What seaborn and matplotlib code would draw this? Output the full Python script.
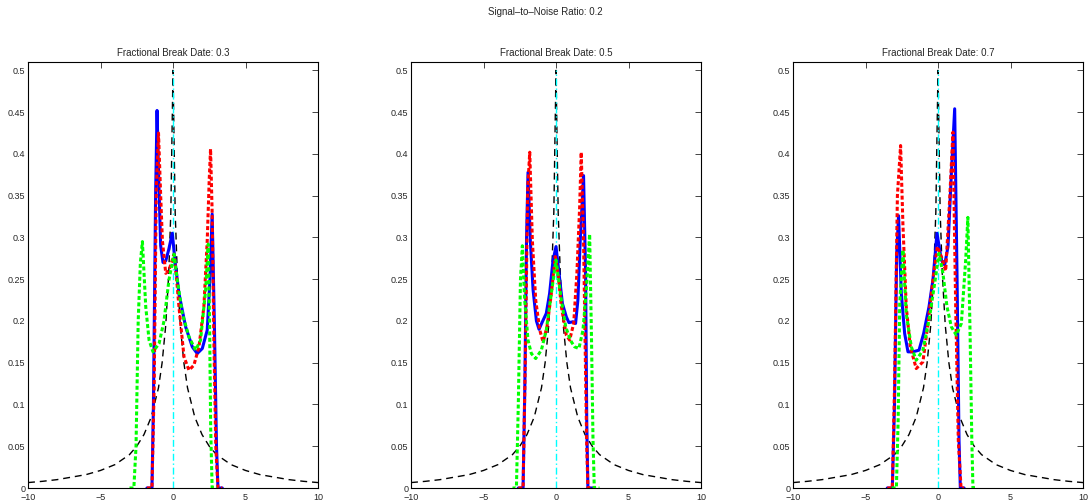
import seaborn as sns
import matplotlib.pyplot as plt

# Black dashed reference density (shared by all panels)
black_x = [-10, -9, -8, -7, -6, -5, -4, -3, -2.5, -2, -1.5, -1, -0.75, -0.5, -0.3, -0.15, 0,
           0.15, 0.3, 0.5, 0.75, 1, 1.5, 2, 2.5, 3, 4, 5, 6, 7, 8, 9, 10]
black_y = [0.0065, 0.008, 0.010, 0.013, 0.016, 0.021, 0.028, 0.040, 0.050, 0.064, 0.085, 0.120, 0.150, 0.195, 0.255, 0.33, 0.5,
           0.33, 0.255, 0.195, 0.150, 0.120, 0.085, 0.064, 0.050, 0.040, 0.028, 0.021, 0.016, 0.013, 0.010, 0.008, 0.0065]

break_dates = [0.3, 0.5, 0.7]

# Break date 0.3
blue_x_03 = [-1.8, -1.45, -1.35, -1.2, -1.1, -1.0, -0.85, -0.69, -0.5, -0.3, -0.05, 0.15, 0.41, 0.87, 1.33, 1.67, 2.02, 2.36, 2.55, 2.7, 2.85, 3.0, 3.1, 3.4]
blue_y_03 = [0, 0, 0.1, 0.35, 0.452, 0.38, 0.29, 0.27, 0.272, 0.285, 0.305, 0.27, 0.233, 0.193, 0.169, 0.161, 0.167, 0.189, 0.25, 0.328, 0.2, 0.05, 0, 0]
red_x_03 = [-1.8, -1.45, -1.3, -1.15, -1.0, -0.85, -0.73, -0.5, -0.3, -0.1, 0.07, 0.25, 0.41, 0.76, 1.1, 1.44, 1.79, 2.13, 2.36, 2.5, 2.59, 2.7, 2.82, 2.95, 3.1, 3.4]
red_y_03 = [0, 0, 0.12, 0.36, 0.425, 0.35, 0.296, 0.257, 0.26, 0.27, 0.28, 0.25, 0.217, 0.157, 0.141, 0.147, 0.169, 0.217, 0.296, 0.37, 0.406, 0.33, 0.177, 0.05, 0, 0]
green_x_03 = [-3.0, -2.7, -2.55, -2.4, -2.25, -2.11, -1.88, -1.65, -1.38, -0.96, -0.62, -0.28, 0.07, 0.3, 0.64, 1.1, 1.56, 1.9, 2.25, 2.43, 2.52, 2.6, 2.7, 3.0]
green_y_03 = [0, 0, 0.05, 0.2, 0.27, 0.295, 0.217, 0.177, 0.163, 0.173, 0.2, 0.249, 0.28, 0.249, 0.209, 0.181, 0.165, 0.177, 0.237, 0.292, 0.2, 0.07, 0, 0]

# Break date 0.5
blue_x_05 = [-2.6, -2.27, -2.15, -2.03, -1.93, -1.77, -1.58, -1.35, -1.17, -0.94, -0.67, -0.44, -0.21, 0, 0.21, 0.44, 0.71, 0.89, 1.17, 1.35, 1.51, 1.67, 1.9, 2.04, 2.12, 2.2, 2.6]
blue_y_05 = [0, 0, 0.12, 0.3, 0.378, 0.296, 0.237, 0.2, 0.19, 0.199, 0.209, 0.233, 0.272, 0.289, 0.257, 0.221, 0.205, 0.198, 0.199, 0.197, 0.225, 0.296, 0.374, 0.257, 0.08, 0, 0]
red_x_05 = [-2.6, -2.27, -2.12, -1.95, -1.81, -1.63, -1.4, -1.12, -0.89, -0.62, -0.32, -0.05, 0.14, 0.37, 0.71, 0.94, 1.22, 1.44, 1.63, 1.74, 1.9, 2.04, 2.12, 2.2, 2.6]
red_y_05 = [0, 0, 0.15, 0.36, 0.402, 0.296, 0.225, 0.189, 0.175, 0.193, 0.233, 0.277, 0.257, 0.217, 0.183, 0.177, 0.197, 0.257, 0.336, 0.402, 0.296, 0.137, 0.05, 0, 0]
green_x_05 = [-3.0, -2.73, -2.6, -2.45, -2.32, -2.16, -1.93, -1.7, -1.4, -1.01, -0.67, -0.32, 0, 0.37, 0.67, 0.99, 1.28, 1.58, 1.86, 2.09, 2.32, 2.45, 2.55, 2.64, 3.0]
green_y_05 = [0, 0, 0.1, 0.25, 0.29, 0.225, 0.177, 0.161, 0.155, 0.165, 0.189, 0.233, 0.273, 0.225, 0.193, 0.177, 0.169, 0.167, 0.189, 0.237, 0.304, 0.177, 0.06, 0, 0]

# Break date 0.7
blue_x_07 = [-3.5, -3.15, -3.0, -2.85, -2.72, -2.53, -2.3, -2.07, -1.73, -1.31, -0.99, -0.62, -0.35, -0.07, 0.23, 0.46, 0.69, 0.92, 1.15, 1.31, 1.45, 1.54, 1.8]
blue_y_07 = [0, 0, 0.1, 0.28, 0.326, 0.233, 0.185, 0.163, 0.163, 0.165, 0.185, 0.217, 0.249, 0.305, 0.273, 0.267, 0.289, 0.376, 0.454, 0.257, 0.057, 0, 0]
red_x_07 = [-3.5, -3.15, -3.0, -2.8, -2.58, -2.42, -2.19, -1.91, -1.5, -1.04, -0.69, -0.35, -0.05, 0.23, 0.53, 0.8, 1.03, 1.22, 1.4, 1.59, 1.8]
red_y_07 = [0, 0, 0.12, 0.35, 0.41, 0.316, 0.217, 0.169, 0.143, 0.151, 0.197, 0.249, 0.289, 0.277, 0.26, 0.344, 0.426, 0.217, 0.057, 0, 0]
green_x_07 = [-3.2, -2.87, -2.75, -2.64, -2.42, -2.19, -1.84, -1.5, -1.04, -0.58, -0.23, 0.07, 0.34, 0.62, 0.92, 1.26, 1.61, 1.91, 2.06, 2.22, 2.33, 2.41, 2.7]
green_y_07 = [0, 0, 0.08, 0.22, 0.285, 0.209, 0.169, 0.153, 0.165, 0.205, 0.245, 0.281, 0.257, 0.217, 0.193, 0.183, 0.197, 0.273, 0.324, 0.177, 0.06, 0, 0]

panels = [
    (blue_x_03, blue_y_03, red_x_03, red_y_03, green_x_03, green_y_03),
    (blue_x_05, blue_y_05, red_x_05, red_y_05, green_x_05, green_y_05),
    (blue_x_07, blue_y_07, red_x_07, red_y_07, green_x_07, green_y_07),
]

x_ticks = [-10, -5, 0, 5, 10]
y_ticks = [0, 0.05, 0.1, 0.15, 0.2, 0.25, 0.3, 0.35, 0.4, 0.45, 0.5]
y_labels = ["0", "0.05", "0.1", "0.15", "0.2", "0.25", "0.3", "0.35", "0.4", "0.45", "0.5"]

sns.set_style("white")
plt.rcParams['font.family'] = ['Liberation Sans', 'DejaVu Sans']

W, H = 1091, 504
fig = plt.figure(figsize=(W / 100, H / 100), dpi=100)
lefts = [28, 411, 793]

for i, (bx, by, rx, ry, gx, gy) in enumerate(panels):
    ax = fig.add_axes([lefts[i] / W, 1 - 488 / H, 290 / W, 426 / H])
    sns.lineplot(x=black_x, y=black_y, ax=ax, color='black', lw=1.0,
                 linestyle=(0, (5, 3.5)), estimator=None)
    sns.lineplot(x=[0, 0], y=[0, 0.5], ax=ax, color='cyan', lw=1.0,
                 linestyle=(0, (5, 2, 1, 2)), estimator=None, sort=False)
    sns.lineplot(x=bx, y=by, ax=ax, color='blue', lw=2.2, estimator=None)
    sns.lineplot(x=rx, y=ry, ax=ax, color='red', lw=2.2,
                 linestyle=(0, (1.3, 0.8)), estimator=None)
    sns.lineplot(x=gx, y=gy, ax=ax, color='#00ff00', lw=2.2,
                 linestyle=(0, (1.3, 0.8)), estimator=None)

    ax.set_xlim(-10, 10)
    ax.set_ylim(0, 0.51)
    ax.set_xticks(x_ticks)
    ax.set_yticks(y_ticks)
    ax.set_yticklabels(y_labels)
    ax.tick_params(direction='in', top=True, right=True, length=4, width=0.6,
                   labelsize=6.5)
    ax.tick_params(axis='x', pad=3.5)
    ax.tick_params(axis='y', pad=2)
    for s in ax.spines.values():
        s.set_visible(True)
        s.set_linewidth(0.8)
        s.set_color('black')
    ax.set_xlabel('')
    ax.set_ylabel('')
    ax.set_title(f"Fractional Break Date: {break_dates[i]}", fontsize=7, pad=4)

fig.text(0.5, 1 - 12 / H, "Signal\u2013to\u2013Noise Ratio: 0.2", ha='center', va='center', fontsize=7)

plt.savefig("out.png", dpi=100)
